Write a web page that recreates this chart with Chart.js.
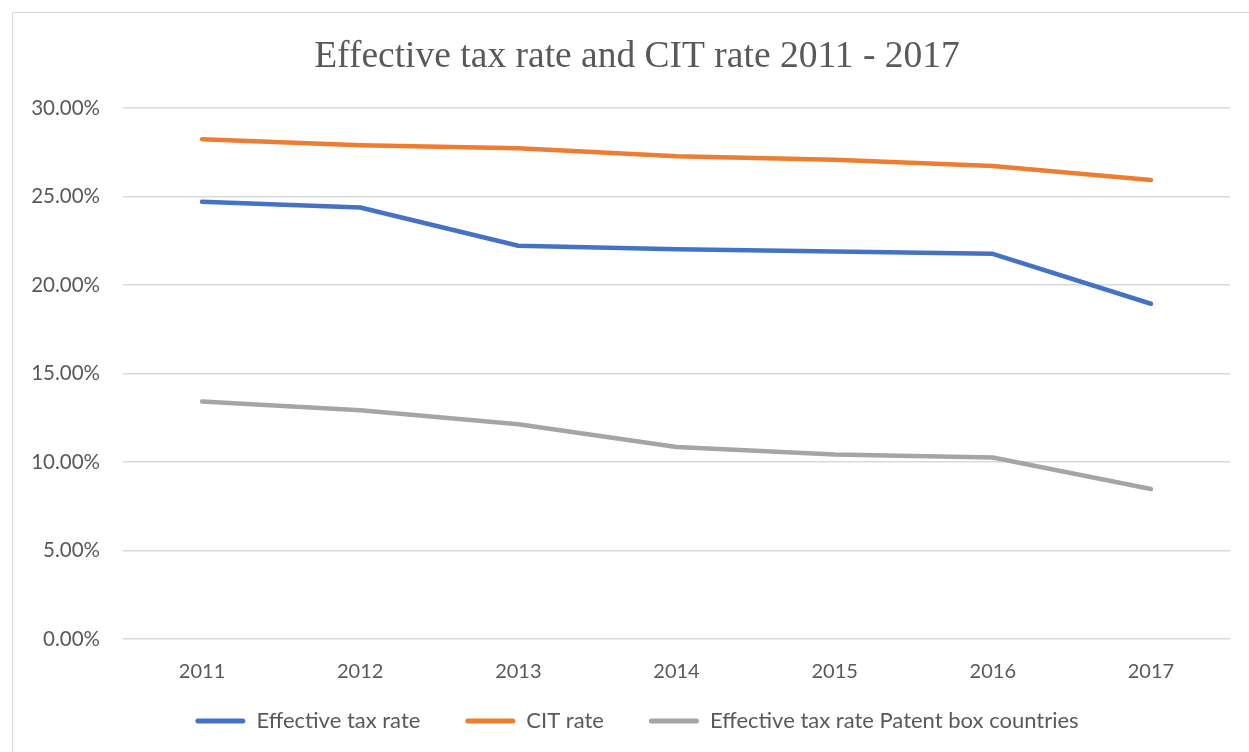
<!DOCTYPE html>
<html>
<head>
<meta charset="utf-8">
<script src="https://cdn.jsdelivr.net/npm/chart.js@4/dist/chart.umd.min.js"></script>
<style>
  html, body { margin: 0; padding: 0; background: #fff; }
  #frame { position: absolute; left: 12px; top: 12px; width: 1260px; height: 760px; border: 1.5px solid #d9d9d9; box-sizing: border-box; }
  #wrap { position: absolute; left: 0; top: 0; width: 1249px; height: 752px; }
</style>
</head>
<body>
<div id="frame"></div>
<div id="wrap"><canvas id="chart"></canvas></div>
<script>
const years = ['2011', '2012', '2013', '2014', '2015', '2016', '2017'];
const effectiveRate = [24.70, 24.38, 22.22, 22.02, 21.89, 21.76, 18.94];
const citRate = [28.24, 27.90, 27.73, 27.27, 27.08, 26.72, 25.93];
const patentBoxRate = [13.42, 12.92, 12.13, 10.85, 10.42, 10.25, 8.47];
const yTicks = [0, 5, 10, 15, 20, 25, 30];

const textColor = '#595959';
const sans = 'Lato, "Open Sans", sans-serif';

function series(label, data, color){
  return {
    label, data,
    borderColor: color,
    backgroundColor: color,
    borderWidth: 4.5,
    borderCapStyle: 'round',
    borderJoinStyle: 'round',
    pointRadius: 0,
    tension: 0,
  };
}

// title and legend sit a bit right of the canvas centre in the original,
// and the legend hugs the axis labels closer than its padding allows
const nudgeBlocks = {
  id: 'nudgeBlocks',
  afterLayout(chart){
    const t = chart.titleBlock;
    t.left += 22; t.right += 22;
    const lg = chart.legend;
    lg.left += 22; lg.right += 22;
    lg.top -= 40; lg.bottom -= 40;
  }
};

const ctx = document.getElementById('chart').getContext('2d');
new Chart(ctx, {
  type: 'line',
  data: {
    labels: years,
    datasets: [
      series('Effective tax rate', effectiveRate, '#4472C4'),
      series('CIT rate', citRate, '#ED7D31'),
      series('Effective tax rate Patent box countries', patentBoxRate, '#A5A5A5'),
    ]
  },
  plugins: [nudgeBlocks],
  options: {
    responsive: true,
    maintainAspectRatio: false,
    animation: false,
    layout: { padding: { left: 0, right: 19, top: 0, bottom: -30 } },
    plugins: {
      title: {
        display: true,
        text: 'Effective tax rate and CIT rate 2011 - 2017',
        color: textColor,
        font: { family: '"Liberation Serif", "Times New Roman", serif', size: 37.5, weight: 'normal' },
        padding: { top: 35, bottom: 28 }
      },
      legend: {
        position: 'bottom',
        labels: {
          color: textColor,
          font: { family: sans, size: 22 },
          boxWidth: 50,
          boxHeight: 5,
          useBorderRadius: true,
          borderRadius: 2.5,
          padding: 45,
          generateLabels(chart){
            return chart.data.datasets.map((ds, i) => ({
              text: ds.label,
              fillStyle: ds.borderColor,
              strokeStyle: ds.borderColor,
              lineWidth: 0,
              fontColor: textColor,
              hidden: false,
              datasetIndex: i,
              borderRadius: 2.5,
            }));
          }
        }
      },
      tooltip: { enabled: false }
    },
    scales: {
      x: {
        offset: true,
        grid: { display: false, drawTicks: false },
        border: { display: false },
        ticks: { color: textColor, font: { family: sans, size: 20 }, padding: 21 }
      },
      y: {
        min: 0, max: 30,
        afterBuildTicks(scale){ scale.ticks = yTicks.map(v => ({ value: v })); },
        afterFit(scale){ scale.width = 123; },
        grid: { color: '#d9d9d9', lineWidth: 1.5, drawTicks: false },
        border: { display: false },
        ticks: {
          color: textColor,
          font: { family: sans, size: 20.5 },
          padding: 23,
          callback: v => v.toFixed(2) + '%'
        }
      }
    }
  }
});
</script>
</body>
</html>
